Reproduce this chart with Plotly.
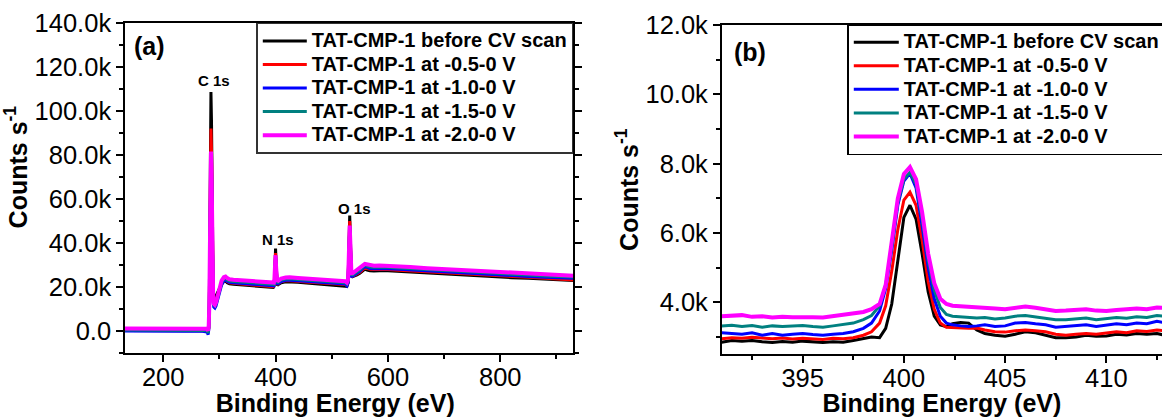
import plotly.graph_objects as go

# ---------------- DATA ----------------
series_names = [
    "TAT-CMP-1 before CV scan",
    "TAT-CMP-1 at -0.5-0 V",
    "TAT-CMP-1 at -1.0-0 V",
    "TAT-CMP-1 at -1.5-0 V",
    "TAT-CMP-1 at -2.0-0 V",
]
series_colors = ["#000000", "#ff0000", "#0000ff", "#008080", "#ff00ff"]

# (a) survey spectrum, binding energy (eV)
survey_x = [132, 160, 200, 240, 270, 278, 280, 281, 282, 283, 284, 285, 286, 287, 288, 289, 290,
            292, 294, 297, 300, 304, 308, 311, 314, 318, 325, 340, 355, 370, 385, 394, 396, 397,
            398, 399, 400, 401, 402, 403, 405, 410, 418, 425, 440, 455, 470, 485, 500, 515, 524,
            527, 529, 530, 531, 532, 533, 534, 535, 537, 540, 545, 550, 555, 559, 563, 568, 575,
            585, 600, 620, 640, 670, 700, 730, 760, 790, 820, 850, 880, 910, 930]

survey_before = [400, 350, 300, 300, 350, 250, -400, 1500, 12000, 45000, 90000, 108500, 95000, 55000, 26000, 17000, 15500,
                 15300, 16000, 17800, 19500, 21500, 22600, 22800, 22000, 21500, 21300, 21000, 20700, 20300, 20000, 19800, 19900, 20300,
                 22500, 30000, 37500, 31000, 22500, 20800, 21200, 22000, 22500, 22500, 22200, 21900, 21600, 21300, 21100, 20900, 20700,
                 20400, 22000, 32000, 46000, 52500, 44000, 30000, 25500, 24800, 25000, 25600, 26300, 27400, 28200, 27800, 27400, 27300,
                 27500, 27400, 27100, 26800, 26400, 25900, 25500, 25100, 24700, 24300, 24000, 23600, 23300, 23000]
survey_05 = [700, 650, 600, 600, 650, 500, -200, 1500, 11000, 40000, 78000, 92000, 82000, 48000, 23000, 15000, 13500,
             13000, 14000, 16500, 19000, 21500, 23000, 23300, 22600, 22000, 21800, 21500, 21200, 20900, 20600, 20300, 20200, 20600,
             22500, 29000, 35500, 29500, 22500, 21200, 21600, 22500, 23000, 23000, 22700, 22400, 22100, 21800, 21600, 21400, 21200,
             20800, 22200, 31000, 44000, 50000, 42000, 29500, 25500, 25000, 25300, 26000, 26800, 28000, 28800, 28500, 28100, 28000,
             28100, 28000, 27700, 27400, 26900, 26500, 26100, 25700, 25300, 24900, 24500, 24100, 23700, 23300]
survey_10 = [100, 0, -50, 0, 50, -300, -1500, 500, 9000, 35000, 68000, 80000, 72000, 42000, 19000, 12500, 11000,
             10500, 11500, 14500, 17500, 21000, 23000, 23300, 22700, 22200, 22000, 21700, 21400, 21100, 20800, 20500, 20300, 20600,
             22300, 28000, 33500, 28000, 22000, 21200, 21700, 22600, 23100, 23200, 22900, 22600, 22300, 22000, 21800, 21600, 21400,
             20600, 21800, 29500, 41500, 47000, 40000, 28500, 25000, 25000, 25500, 26300, 27200, 28500, 29300, 29000, 28500, 28400,
             28500, 28400, 28100, 27800, 27300, 26900, 26500, 26100, 25700, 25300, 24900, 24500, 24200, 24000]
survey_15 = [600, 550, 500, 500, 550, 300, -800, 1200, 9500, 36000, 69000, 80500, 73000, 43000, 20000, 13500, 12000,
             11500, 12500, 15500, 18500, 22000, 23800, 24000, 23300, 22800, 22600, 22300, 22000, 21700, 21400, 21100, 21000, 21300,
             23000, 28500, 34000, 28500, 22700, 21800, 22300, 23200, 23700, 23800, 23500, 23200, 22900, 22600, 22400, 22200, 22000,
             21400, 22600, 30000, 42000, 47500, 40500, 29000, 25700, 25600, 26100, 26900, 27800, 29100, 29900, 29600, 29100, 29000,
             29100, 29000, 28700, 28400, 27900, 27500, 27100, 26700, 26300, 25900, 25500, 25100, 24800, 24600]
survey_20 = [1300, 1250, 1200, 1250, 1300, 1100, 300, 2500, 11000, 37000, 70000, 81500, 74000, 44000, 21000, 14000, 12500,
             12000, 13000, 16000, 19500, 23000, 24500, 24800, 24100, 23600, 23400, 23100, 22800, 22500, 22200, 21900, 21800, 22100,
             23800, 29000, 34500, 29000, 23300, 22500, 23000, 23900, 24400, 24500, 24200, 23900, 23600, 23300, 23100, 22900, 22700,
             22100, 23300, 30500, 42500, 48000, 41000, 29500, 26300, 26300, 26800, 27600, 28500, 29800, 30600, 30300, 29800, 29700,
             29800, 29700, 29400, 29100, 28600, 28200, 27800, 27400, 27000, 26600, 26200, 25800, 25400, 25200]

# (b) N 1s high-resolution spectrum
n1s_x = [391.0, 391.5, 392.0, 392.5, 393.0, 393.5, 394.0, 394.5, 395.0, 395.5, 396.0, 396.5, 397.0, 397.5, 398.0,
         398.4, 398.8, 399.1, 399.4, 399.7, 400.0, 400.3, 400.6, 400.9, 401.2, 401.5, 401.8, 402.1, 402.4,
         402.8, 403.2, 403.6, 404.0, 404.5, 405.0, 405.5, 406.0, 406.5, 407.0, 407.5, 408.0, 408.5, 409.0,
         409.5, 410.0, 410.5, 411.0, 411.5, 412.0, 412.5, 412.8]
n1s_before = [2850, 2900, 2880, 2900, 2860, 2840, 2870, 2850, 2880, 2860, 2840, 2860, 2850, 2900, 2950,
              3000, 2980, 3250, 3950, 5250, 6450, 6800, 6400, 5400, 4300, 3600, 3350, 3300, 3380,
              3420, 3400, 3200, 3100, 3050, 3020, 3080, 3150, 3120, 3050, 2980, 2980, 3000, 3050,
              3020, 3030, 3080, 3060, 3100, 3080, 3100, 3060]
n1s_05 = [2950, 2980, 2960, 2990, 2970, 2950, 2970, 2940, 2960, 2950, 2930, 2960, 2950, 2980, 3050,
          3150, 3400, 3900, 4900, 6100, 6950, 7180, 6800, 5800, 4600, 3800, 3400, 3280, 3270,
          3260, 3250, 3260, 3200, 3150, 3140, 3180, 3200, 3180, 3150, 3080, 3050, 3080, 3100,
          3080, 3120, 3150, 3120, 3180, 3160, 3200, 3180]
n1s_10 = [3120, 3100, 3080, 3120, 3050, 3100, 3050, 3080, 3100, 3070, 3050, 3080, 3100, 3150, 3250,
          3400, 3750, 4400, 5500, 6800, 7500, 7720, 7300, 6200, 5000, 4100, 3600, 3400, 3350,
          3320, 3300, 3320, 3350, 3300, 3320, 3400, 3420, 3380, 3350, 3280, 3300, 3320, 3350,
          3300, 3340, 3380, 3350, 3400, 3380, 3450, 3420]
n1s_15 = [3320, 3340, 3300, 3330, 3280, 3320, 3300, 3310, 3330, 3300, 3280, 3320, 3350, 3400, 3500,
          3620, 3900, 4500, 5600, 6900, 7550, 7750, 7400, 6400, 5200, 4350, 3850, 3650, 3600,
          3580, 3560, 3550, 3560, 3520, 3550, 3600, 3620, 3580, 3550, 3500, 3500, 3520, 3550,
          3500, 3520, 3560, 3540, 3580, 3560, 3620, 3600]
n1s_20 = [3600, 3620, 3630, 3580, 3600, 3560, 3580, 3570, 3580, 3570, 3560, 3600, 3620, 3660, 3720,
          3800, 3950, 4500, 5700, 7000, 7700, 7900, 7550, 6600, 5400, 4550, 4100, 3950, 3900,
          3880, 3880, 3860, 3840, 3820, 3800, 3850, 3880, 3840, 3800, 3750, 3760, 3780, 3800,
          3760, 3750, 3780, 3800, 3820, 3800, 3850, 3840]

survey_series = [survey_before, survey_05, survey_10, survey_15, survey_20]
n1s_series = [n1s_before, n1s_05, n1s_10, n1s_15, n1s_20]

# tick labels
a_xticks = [200, 400, 600, 800]
a_yticks = [0, 20000, 40000, 60000, 80000, 100000, 120000, 140000]
a_yticktext = ["0.0", "20.0k", "40.0k", "60.0k", "80.0k", "100.0k", "120.0k", "140.0k"]
b_xticks = [395, 400, 405, 410]
b_yticks = [4000, 6000, 8000, 10000, 12000]
b_yticktext = ["4.0k", "6.0k", "8.0k", "10.0k", "12.0k"]

peak_labels = ["C 1s", "N 1s", "O 1s"]
peak_label_x = [290, 404, 540]
peak_label_y = [114000, 41500, 55500]

# ---------------- FIGURE ----------------
W, H = 1162, 417
FONT = "Arial, Liberation Sans, sans-serif"
fig = go.Figure()


def legend_label(name):
    # legend rows are spaced by the legend font size; the label itself is drawn a bit larger
    return "<span style='font-size:20px'>" + name + "</span>"


for name, col, ys in zip(series_names, series_colors, survey_series):
    fig.add_trace(go.Scatter(x=survey_x, y=ys, mode="lines", name=legend_label(name),
                             line=dict(color=col, width=4 if col == "#ff00ff" else 3),
                             xaxis="x", yaxis="y", legend="legend"))
for name, col, ys in zip(series_names, series_colors, n1s_series):
    fig.add_trace(go.Scatter(x=n1s_x, y=ys, mode="lines", name=legend_label(name),
                             line=dict(color=col, width=4 if col == "#ff00ff" else 3),
                             xaxis="x2", yaxis="y2", legend="legend2"))


def px_x(p):
    return p / W


def px_y(p):
    return 1 - p / H


axis_common = dict(showline=True, linecolor="black", linewidth=1.5, ticks="outside",
                   ticklen=7, tickwidth=1.5, tickcolor="black", showgrid=False, zeroline=False,
                   automargin=False,
                   tickfont=dict(family=FONT, size=25.5, color="black"))
minor_common = dict(ticklen=4, ticks="outside", tickwidth=1.5, tickcolor="black")
title_font = dict(family=FONT, size=25, weight="bold", color="black")

fig.update_layout(
    width=W, height=H, margin=dict(l=0, r=0, t=0, b=0, autoexpand=False),
    paper_bgcolor="white", plot_bgcolor="white", showlegend=True,
    font=dict(family=FONT, color="black"),
    xaxis=dict(domain=[px_x(125), px_x(573.3)], range=[132, 930], anchor="y", mirror=True,
               tickmode="array", tickvals=a_xticks, ticklabelstandoff=-7,
               minor=dict(dtick=100, tick0=0, **minor_common),
               title=dict(text="Binding Energy (eV)" + "&nbsp;" * 4, font=title_font, standoff=2),
               **axis_common),
    yaxis=dict(domain=[px_y(353.3), px_y(22.7)], range=[-10000, 140000], anchor="x", mirror="ticks",
               tickmode="array", tickvals=a_yticks, ticktext=a_yticktext,
               minor=dict(dtick=10000, tick0=0, **minor_common),
               title=dict(text="&nbsp;" * 6 + "Counts s<sup>-1</sup>", font=title_font, standoff=0),
               **axis_common),
    xaxis2=dict(domain=[px_x(721.7), 1.0], range=[391, 412.75], anchor="y2", mirror=True,
                tickmode="array", tickvals=b_xticks, ticklabelstandoff=-7,
                minor=dict(dtick=2.5, tick0=0, **minor_common),
                title=dict(text="Binding Energy (eV)", font=title_font, standoff=2),
                **axis_common),
    yaxis2=dict(domain=[px_y(354.3), px_y(25)], range=[2500, 12000], anchor="x2",
                tickmode="array", tickvals=b_yticks, ticktext=b_yticktext,
                minor=dict(dtick=1000, tick0=0, **minor_common),
                title=dict(text="Counts s<sup>-1</sup>", font=title_font, standoff=0),
                **axis_common),
    legend=dict(x=px_x(573.3), xanchor="right", y=px_y(22.7), yanchor="top",
                bgcolor="white", bordercolor="#333333", borderwidth=1.5,
                font=dict(family=FONT, size=15.8, weight="bold", color="black"),
                itemwidth=44, tracegroupgap=0),
    legend2=dict(x=px_x(847.3), xanchor="left", y=px_y(24), yanchor="top",
                 bgcolor="white", bordercolor="#000000", borderwidth=1.5,
                 font=dict(family=FONT, size=15.8, weight="bold", color="black"),
                 itemwidth=45, tracegroupgap=0),
)

annotations = []
for txt, ax_, ay_ in zip(peak_labels, peak_label_x, peak_label_y):
    annotations.append(dict(x=ax_, y=ay_, xref="x", yref="y", text=txt, showarrow=False,
                            font=dict(family=FONT, size=15, weight="bold", color="black")))
annotations.append(dict(x=176, y=129500, xref="x", yref="y", text="(a)", showarrow=False,
                        font=dict(family=FONT, size=25, weight="bold", color="black")))
annotations.append(dict(x=392.4, y=11230, xref="x2", yref="y2", text="(b)", showarrow=False,
                        font=dict(family=FONT, size=25, weight="bold", color="black")))
fig.update_layout(annotations=annotations)

# the page body has a default 8px margin; remove it so the figure sits at the window origin
fig.write_html("out.html", config={"displayModeBar": False},
               post_script="document.body.style.margin='0px'; document.body.style.overflow='hidden';")
